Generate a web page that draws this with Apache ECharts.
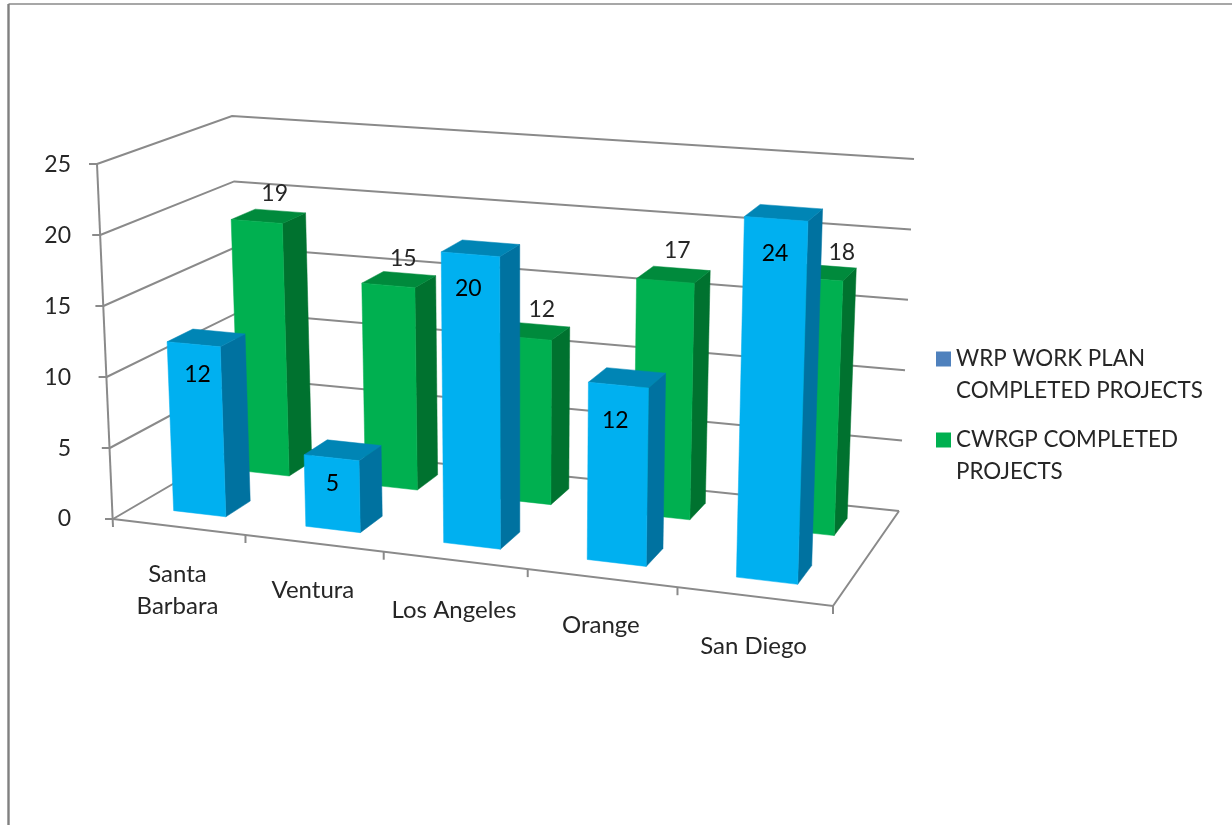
<!DOCTYPE html>
<html><head><meta charset="utf-8">
<style>html,body{margin:0;padding:0;background:#fff}#c{width:1232px;height:825px}</style>
<script src="https://cdn.jsdelivr.net/npm/echarts@6/dist/echarts.min.js"></script>
</head><body><div id="c"></div>
<script>
const categories = ['Santa\nBarbara','Ventura','Los Angeles','Orange','San Diego'];
const wrpValues = [12,5,20,12,24];
const cwrgpValues = [19,15,12,17,18];
const valueTicks = [0,5,10,15,20,25];
const axisMax = 25;

// plot box as seen in the reference: floor and top plane corners
const FLOOR = {fl:[113,519],fr:[833,606],br:[899,511],bl:[243,443]};
const CEIL  = {fl:[97,164],fr:[845,220],br:[914,159],bl:[232,116]};
const GRID = {left:80,top:165,width:720,height:354};
const ROW = {blue:[0.17,0.37],green:[0.69,0.875]};
const ROW_HEIGHT = {blue:1,green:0.98};
const BAR_HALF = 0.2;
const WARP = 0.1;
const C = {
  blue:{f:'#00B0F0',s:'#0072A0',t:'#0085B5',text:'#000000'},
  green:{f:'#00B050',s:'#00722F',t:'#008A3C',text:'#262626'},
  grid:'#8A8A8A', text:'#262626'
};
const LABEL_FONT='Lato';

function bilinear(q,u,d){
  const m=(a,b,k)=>a+(b-a)*k;
  const ax=m(q.fl[0],q.fr[0],u),ay=m(q.fl[1],q.fr[1],u),bx=m(q.bl[0],q.br[0],u),by=m(q.bl[1],q.br[1],u);
  return [m(ax,bx,d),m(ay,by,d)];
}
function P(u,d,t){
  const w=u-WARP*u*(1-u);
  const a=bilinear(FLOOR,w,d),b=bilinear(CEIL,w,d);
  return [a[0]+(b[0]-a[0])*t,a[1]+(b[1]-a[1])*t];
}
function toUnit(api,cat,val){
  const p=api.coord([cat,val]);
  return {u:(p[0]-GRID.left)/GRID.width,t:(GRID.top+GRID.height-p[1])/GRID.height};
}
function poly(points,fill){return {type:'polygon',shape:{points},style:{fill,stroke:fill,lineWidth:0.5}};}
function line(points,w){return {type:'polyline',shape:{points},style:{fill:'none',stroke:C.grid,lineWidth:w||2}};}

const GREEN_LABEL=[[18,-28],[15,-27],[18,-28],[12,-30],[29,-26]];
const BLUE_LABEL=[[4,30],[1,26],[-2,34],[-3,36],[-1,35]];
const CATEGORY_LABEL_DY=[1,1,4,1,4];

function barRender(kind){
  return function(params,api){
    const i=api.value(0),val=api.value(1);
    const p=toUnit(api,i,val),u=p.u,t=p.t*ROW_HEIGHT[kind];
    const half=api.size([1,0])[0]/GRID.width*BAR_HALF;
    const [d0,d1]=ROW[kind],c=C[kind];
    const u0=u-half,u1=u+half;
    const fb0=P(u0,d0,0),fb1=P(u1,d0,0),bb1=P(u1,d1,0);
    const ft0=P(u0,d0,t),ft1=P(u1,d0,t),bt1=P(u1,d1,t),bt0=P(u0,d1,t);
    const anchor=P(u,d0,t),off=(kind==='blue'?BLUE_LABEL:GREEN_LABEL)[i];
    return {type:'group',children:[
      poly([fb1,bb1,bt1,ft1],c.s),
      poly([ft0,ft1,bt1,bt0],c.t),
      poly([fb0,fb1,ft1,ft0],c.f),
      {type:'text',z2:50,style:{text:String(val),x:anchor[0]+off[0],y:anchor[1]+off[1],
        align:'center',verticalAlign:'middle',fill:c.text,font:'23px '+LABEL_FONT}}
    ]};
  };
}

const chart=echarts.init(document.getElementById('c'),null,{renderer:'canvas'});
chart.setOption({
  animation:false,
  backgroundColor:'#ffffff',
  graphic:[
    {type:'line',shape:{x1:8.5,y1:4,x2:1232,y2:4},style:{stroke:'#8A8A8A',lineWidth:1.6}},
    {type:'line',shape:{x1:8.5,y1:4,x2:8.5,y2:825},style:{stroke:'#808080',lineWidth:2.4}}
  ],
  grid:{left:GRID.left,top:GRID.top,width:GRID.width,height:GRID.height},
  xAxis:{type:'category',data:categories,show:false},
  yAxis:{type:'value',min:0,max:axisMax,interval:5,
    axisLine:{show:false},axisTick:{show:false},splitLine:{show:false},
    axisLabel:{margin:9,color:C.text,fontFamily:LABEL_FONT,fontSize:23}},
  legend:{orient:'vertical',left:936,top:311,padding:0,itemWidth:15,itemHeight:15,itemGap:-15,
    selectedMode:false,icon:'rect',data:[
      'WRP WORK PLAN\nCOMPLETED PROJECTS','CWRGP COMPLETED\nPROJECTS'],
    formatter:n=>'\n'+n,
    textStyle:{color:C.text,fontFamily:LABEL_FONT,fontSize:22.4,lineHeight:32}},
  series:[
    {type:'custom',name:'walls',silent:true,z:1,clip:false,data:valueTicks.map(v=>[0,v]),
     encode:{x:0,y:1},
     renderItem(params,api){
       const {t}=toUnit(api,0,api.value(1));
       const a=P(0,0,t),b=P(0,1,t),c=P(1,1,t);
       return {type:'group',children:[
         line([a,b,c]),
         line([[a[0]-8,a[1]],a])
       ]};
     }},
    {type:'custom',name:'frame',silent:true,z:1,clip:false,data:[[0,0]],encode:{x:0,y:1},
     renderItem(params,api){
       const tickLen=8;
       const kids=[
         line([P(0,0,1),[P(0,0,0)[0],P(0,0,0)[1]+tickLen]]),
         line([P(0,0,0),P(1,0,0),P(1,1,0)])
       ];
       for(let k=1;k<=categories.length;k++){
         const p=P(k/categories.length,0,0);
         kids.push(line([p,[p[0],p[1]+tickLen]]));
       }
       return {type:'group',children:kids};
     }},
    {type:'custom',name:'CWRGP COMPLETED\nPROJECTS',z:2,clip:false,itemStyle:{color:'#00B050'},
     data:cwrgpValues.map((v,i)=>[i,v]),encode:{x:0,y:1},renderItem:barRender('green')},
    {type:'custom',name:'WRP WORK PLAN\nCOMPLETED PROJECTS',z:3,clip:false,itemStyle:{color:'#4F81BD'},
     data:wrpValues.map((v,i)=>[i,v]),encode:{x:0,y:1},renderItem:barRender('blue')},
    {type:'custom',name:'categoryLabels',silent:true,z:4,clip:false,
     data:categories.map((c,i)=>[i,0]),encode:{x:0,y:1},
     renderItem(params,api){
       const {u}=toUnit(api,api.value(0),0);
       const p=P(u,0,0);
       return {type:'text',style:{text:categories[params.dataIndex],x:p[0]-1,y:p[1]+30+CATEGORY_LABEL_DY[params.dataIndex],
         align:'center',verticalAlign:'top',fill:C.text,font:'24px '+LABEL_FONT,lineHeight:32}};
     }}
  ]
});
</script></body></html>
